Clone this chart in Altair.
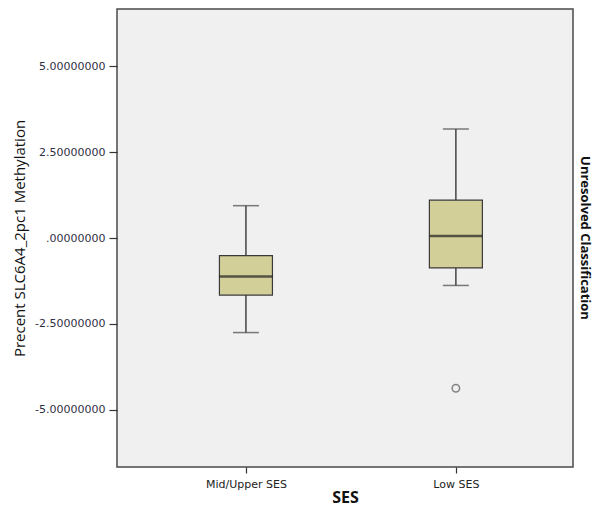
import altair as alt
import pandas as pd

categories = ["Mid/Upper SES", "Low SES"]
whisker_low = [-2.75, -1.38]
q1 = [-1.66, -0.87]
median = [-1.12, 0.06]
q3 = [-0.51, 1.10]
whisker_high = [0.94, 3.17]
outlier_cat = ["Low SES"]
outlier_val = [-4.37]
y_ticks = [-5, -2.5, 0, 2.5, 5]
y_tick_labels = ["-5.00000000", "-2.50000000", ".00000000", "2.50000000", "5.00000000"]
right_title = ["Unresolved Classification"]

box_df = pd.DataFrame({
    "cat": categories, "lo": whisker_low, "q1": q1,
    "med": median, "q3": q3, "hi": whisker_high,
})
out_df = pd.DataFrame({"cat": outlier_cat, "val": outlier_val})
txt_df = pd.DataFrame({"t": right_title})

label_expr = "''"
for v, lab in zip(y_ticks, y_tick_labels):
    label_expr = f"datum.value == {v} ? '{lab}' : ({label_expr})"

LABEL_COLOR = "#2f2f45"
W, H = 456, 458

x_enc = alt.X(
    "cat:N", sort=categories,
    scale=alt.Scale(type="point", padding=0.586, align=0.524),
    axis=alt.Axis(
        title="SES", domain=False, tickSize=6, tickColor="#333333", tickWidth=1.2,
        labelAngle=0, labelFont="DejaVu Sans", labelFontSize=11, labelColor="#222222",
        labelPadding=5, titleFont="Open Sans", titleFontSize=16, titleFontWeight="bold",
        titleColor="#111111", titleX=W / 2, titleY=30, titleBaseline="middle",
    ),
)
y_scale = alt.Scale(domain=[-6.66, 6.66], nice=False, zero=False)
y_axis = alt.Axis(
    title="Precent SLC6A4_2pc1 Methylation", values=y_ticks, labelExpr=label_expr,
    domain=False, grid=False, tickSize=8, tickColor="#333333", tickWidth=1.2,
    labelFont="DejaVu Sans", labelFontSize=11, labelColor=LABEL_COLOR, labelPadding=4,
    titleFont="Open Sans", titleFontSize=15, titleFontWeight="normal", titleColor="#111111",
    titleX=-98, titleY=H / 2, titleBaseline="middle", titleAngle=-90,
)

base = alt.Chart(box_df)

whisk = base.mark_rule(color="#444444", strokeWidth=1.5).encode(
    x=x_enc, y=alt.Y("lo:Q", scale=y_scale, axis=y_axis), y2="hi:Q"
)
caps_lo = base.mark_tick(color="#444444", thickness=1.5, size=26).encode(
    x=x_enc, y=alt.Y("lo:Q", scale=y_scale, axis=y_axis)
)
caps_hi = base.mark_tick(color="#444444", thickness=1.5, size=26).encode(
    x=x_enc, y=alt.Y("hi:Q", scale=y_scale, axis=y_axis)
)
box = base.mark_bar(size=53, fill="#d3cf98", stroke="#3a3a3a", strokeWidth=1.2).encode(
    x=x_enc, y=alt.Y("q1:Q", scale=y_scale, axis=y_axis), y2="q3:Q"
)
med = base.mark_tick(color="#1e1e1e", thickness=2.5, size=53).encode(
    x=x_enc, y=alt.Y("med:Q", scale=y_scale, axis=y_axis)
)
outl = alt.Chart(out_df).mark_point(
    shape="circle", size=55, filled=False, color="#555555", strokeWidth=1.5
).encode(x=x_enc, y=alt.Y("val:Q", scale=y_scale, axis=y_axis))

rtext = alt.Chart(txt_df).mark_text(
    angle=90, align="center", baseline="middle", font="Open Sans",
    fontSize=13, fontWeight="bold", color="#111111"
).encode(x=alt.value(W + 12), y=alt.value(H / 2), text="t:N")

chart = alt.layer(whisk, caps_lo, caps_hi, box, med, outl, rtext).properties(
    width=W, height=H,
    autosize=alt.AutoSizeParams(type="none"),
    padding={"left": 109, "top": 1, "right": 587 - 109 - W, "bottom": 501 - 1 - H},
    background="white",
).configure_view(
    fill="#f0f0f0", stroke="#4a4a4a", strokeWidth=1.5
)

chart.save("out.html", embed_options={"renderer": "svg", "actions": False})
